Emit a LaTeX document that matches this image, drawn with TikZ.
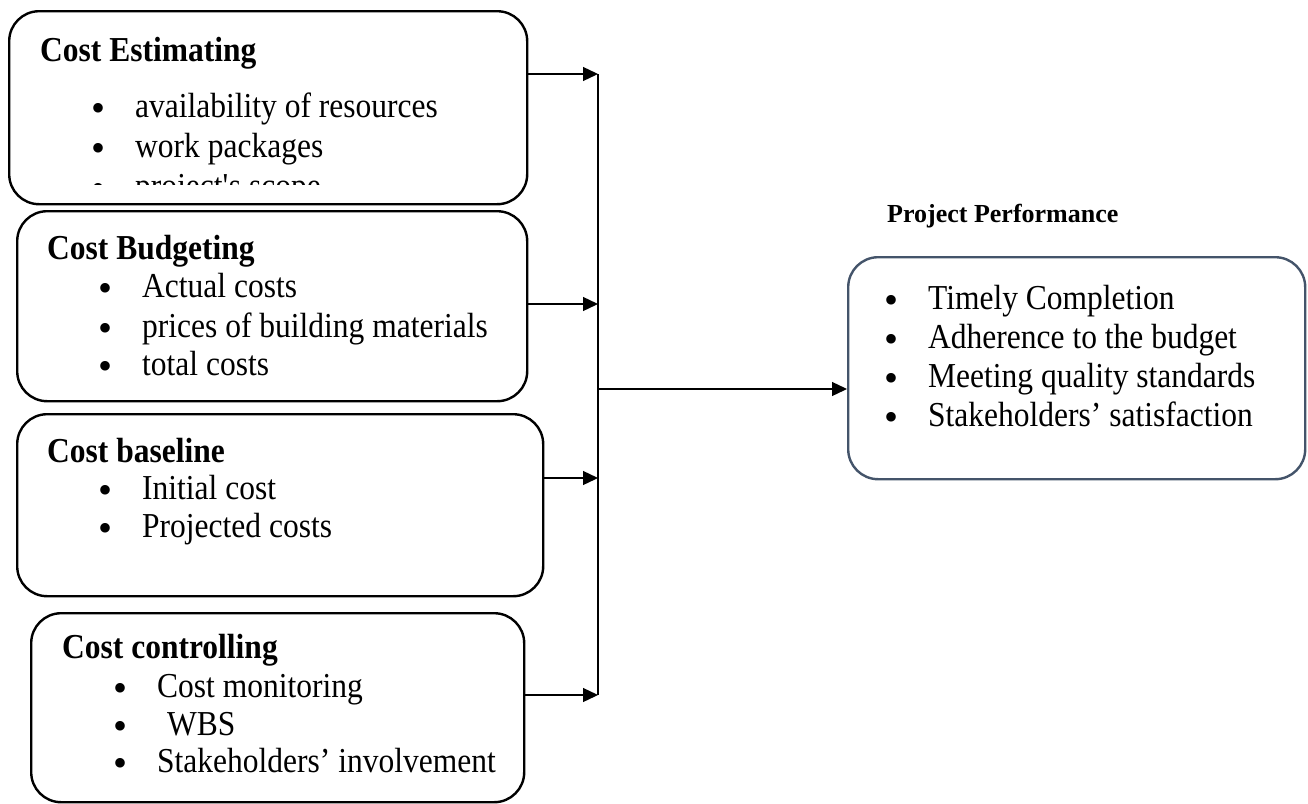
\documentclass[tikz,border=0pt]{standalone}
\usepackage{fontspec}
\setmainfont{Liberation Serif}[FakeStretch=0.9]
\newfontfamily\pfont{Liberation Serif}
\usetikzlibrary{arrows.meta}
\definecolor{slate}{RGB}{68,84,106}
\begin{document}
\begin{tikzpicture}[x=1pt,y=-1pt,
  box/.style={draw=black, line width=2.4pt, rounded corners=30pt, rectangle, inner sep=0pt, anchor=north west},
  pbox/.style={box, draw=slate},
  ttl/.style={anchor=base west, inner sep=0pt, font=\fontsize{35}{40}\selectfont\bfseries},
  ptl/.style={anchor=base west, inner sep=0pt, font=\pfont\fontsize{26}{30}\selectfont\bfseries},
  itm/.style={anchor=base west, inner sep=0pt, font=\fontsize{35}{40}\selectfont},
  bul/.style={anchor=base west, inner sep=0pt, yshift=-4pt, font=\pfont\fontsize{40}{44}\selectfont},
  trunk/.style={line width=1.3pt},
  conn/.style={line width=1.3pt, -{Triangle[length=15pt,width=14pt]}},
]
\useasboundingbox (0,0) rectangle (1308,803);

% boxes
\node[box, minimum width=518pt, minimum height=193pt] (b1) at (8,10) {};
\node[box, minimum width=510pt, minimum height=190pt] (b2) at (16,210) {};
\node[box, minimum width=526pt, minimum height=182pt] (b3) at (16,413) {};
\node[box, minimum width=493pt, minimum height=189pt] (b4) at (30,612) {};
\node[pbox, minimum width=457pt, minimum height=222pt] (b5) at (847,256) {};

% box 1
\node[ttl] (t1) at (40,61) {Cost Estimating};
\node[bul] (u1a) at (91,117) {•};
\node[itm] (i1a) at (135,117) {availability of resources};
\node[bul] (u1b) at (91,157) {•};
\node[itm] (i1b) at (135,157) {work packages};
\begin{scope}
  \clip (b1.north west) rectangle (526,184);
  \node[bul] (u1c) at (91,197) {•};
  \node[itm] (i1c) at (135,197) {project\textquotesingle s scope};
\end{scope}

% box 2
\node[ttl] (t2) at (47,259) {Cost Budgeting};
\node[bul] (u2a) at (98,297) {•};
\node[itm] (i2a) at (142,297) {Actual costs};
\node[bul] (u2b) at (98,337) {•};
\node[itm] (i2b) at (142,337) {prices of building materials};
\node[bul] (u2c) at (98,375) {•};
\node[itm] (i2c) at (142,375) {total costs};

% box 3
\node[ttl] (t3) at (47,462) {Cost baseline};
\node[bul] (u3a) at (98,499) {•};
\node[itm] (i3a) at (142,499) {Initial cost};
\node[bul] (u3b) at (98,537) {•};
\node[itm] (i3b) at (142,537) {Projected costs};

% box 4
\node[ttl] (t4) at (62,658) {Cost controlling};
\node[bul] (u4a) at (113,697) {•};
\node[itm] (i4a) at (157,697) {Cost monitoring};
\node[bul] (u4b) at (113,735) {•};
\node[itm] (i4b) at (167,735) {WBS};
\node[bul] (u4c) at (113,772) {•};
\node[itm] (i4c) at (157,772) {Stakeholders’ involvement};

% box 5
\node[ptl] (t5) at (887,222) {Project Performance};
\node[bul] (u5a) at (884,309) {•};
\node[itm] (i5a) at (928,309) {Timely Completion};
\node[bul] (u5b) at (884,348) {•};
\node[itm] (i5b) at (928,348) {Adherence to the budget};
\node[bul] (u5c) at (884,387) {•};
\node[itm] (i5c) at (928,387) {Meeting quality standards};
\node[bul] (u5d) at (884,426) {•};
\node[itm] (i5d) at (928,426) {Stakeholders’ satisfaction};

% connectors
\coordinate (j1) at (598,74);
\coordinate (j2) at (598,304);
\coordinate (j3) at (598,478);
\coordinate (j4) at (598,695);
\coordinate (jm) at (598,389);
\draw[trunk] (j1) -- (j4);
\draw[conn] (b1.east |- j1) -- (j1);
\draw[conn] (b2.east |- j2) -- (j2);
\draw[conn] (b3.east |- j3) -- (j3);
\draw[conn] (b4.east |- j4) -- (j4);
\draw[conn] (jm) -- (jm -| b5.west);
\end{tikzpicture}
\end{document}
